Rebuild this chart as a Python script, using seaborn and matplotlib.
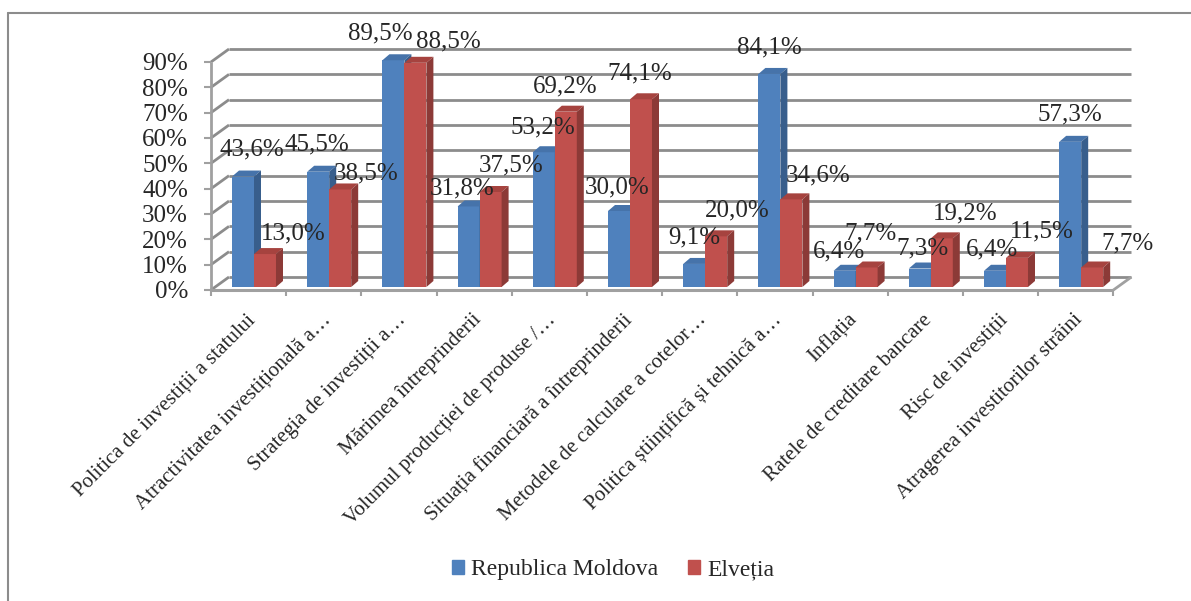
import numpy as np
import pandas as pd
import matplotlib
matplotlib.use('Agg')
import matplotlib.pyplot as plt
import matplotlib.transforms as mtransforms
from matplotlib.lines import Line2D
from matplotlib.patches import Patch
import seaborn as sns

# ---------------- data ----------------
categories = [
    "Politica de investiții a statului",
    "Atractivitatea investițională a…",
    "Strategia de investiții a…",
    "Mărimea întreprinderii",
    "Volumul producției de produse /…",
    "Situația financiară a întreprinderii",
    "Metodele de calculare a cotelor…",
    "Politica științifică și tehnică a…",
    "Inflația",
    "Ratele de creditare bancare",
    "Risc de investiții",
    "Atragerea investitorilor străini",
]
series_names = ["Republica Moldova", "Elveția"]
moldova = [43.6, 45.5, 89.5, 31.8, 53.2, 30.0, 9.1, 84.1, 6.4, 7.3, 6.4, 57.3]
elvetia = [13.0, 38.5, 88.5, 37.5, 69.2, 74.1, 20.0, 34.6, 7.7, 19.2, 11.5, 7.7]
y_ticks = [0, 10, 20, 30, 40, 50, 60, 70, 80, 90]
y_tick_labels = [f"{t}%" for t in y_ticks]

# label nudges in pixels (dx right, dy up) relative to bar top
moldova_label_offsets = [(9, 27), (-1, 27), (-13, 27), (-6, 18), (-1, 25), (-2, 24),
                         (0, 26), (0, 26), (-6, 19), (3, 20), (-3, 21), (0, 27)]
elvetia_label_offsets = [(28, 21), (26, 16), (33, 21), (21, 27), (-1, 25), (-1, 26),
                         (21, 26), (27, 24), (4, 34), (23, 25), (25, 26), (35, 24)]

# ---------------- style ----------------
colors = ["#4f81bd", "#c0504d"]
side_colors = ["#385e8c", "#8c3a37"]
top_colors = ["#4673aa", "#a6433f"]
grid_col = "#8c8c8c"
axis_col = "#a0a0a0"

W, H = 1191, 601
sns.set_style("white")
plt.rcParams["font.family"] = ["Liberation Serif", "DejaVu Serif"]

fig = plt.figure(figsize=(W / 100, H / 100), dpi=100)
fig.patch.set_facecolor("white")
ax = fig.add_axes([216.4 / W, (H - 287) / H, 902.4 / W, 228 / H])
ax.patch.set_visible(False)

df = pd.DataFrame({
    "Factor": categories * 2,
    "Serie": [series_names[0]] * len(categories) + [series_names[1]] * len(categories),
    "Valoare": moldova + elvetia,
})
sns.barplot(data=df, x="Factor", y="Valoare", hue="Serie", palette=colors,
            width=0.585, saturation=1, ax=ax, legend=False, errorbar=None,
            linewidth=0)

ax.set_xlim(-0.5, len(categories) - 0.5)
ax.set_ylim(0, 90)
ax.set_autoscale_on(False)
for s in ax.spines.values():
    s.set_visible(False)
ax.set_xlabel("")
ax.set_ylabel("")


def to_fig(xd, yd, ox=0.0, oy=0.0):
    px, py = ax.transData.transform((xd, yd))
    return (px + ox) / W, (py + oy) / H


FO = (-5.4, -3.0)   # front plane offset (px)
BO = (12.6, 10.0)   # back wall offset (px)
xl, xr = -0.5, len(categories) - 0.5


def seg(p, q, color, lw, z):
    ax.plot([p[0], q[0]], [p[1], q[1]], transform=fig.transFigure, color=color,
            lw=lw, clip_on=False, zorder=z, solid_capstyle="butt")


# back wall gridlines + left wall diagonals + y tick marks
for t in y_ticks:
    b0 = to_fig(xl, t, *BO)
    b1 = to_fig(xr, t, *BO)
    seg(b0, b1, grid_col, 2.0, 0.5)
    f0 = to_fig(xl, t, *FO)
    seg(f0, b0, grid_col, 2.0, 0.5)
    seg((f0[0] - 7 / W, f0[1]), f0, axis_col, 1.5, 0.6)

# front axes
seg(to_fig(xl, 0, *FO), to_fig(xl, 90, *FO), axis_col, 2.0, 0.6)
seg(to_fig(xl, 0, *FO), to_fig(xr, 0, *FO), axis_col, 2.2, 0.6)
seg(to_fig(xr, 0, *FO), to_fig(xr, 0, *BO), axis_col, 2.0, 0.6)
for k in range(len(categories) + 1):
    p = to_fig(xl + k, 0, *FO)
    seg(p, (p[0], p[1] - 6 / H), axis_col, 1.5, 0.6)

# 3D faces on bars
ddx, ddy = 7, 6
for ci, cont in enumerate(ax.containers):
    for bar in cont:
        x, w, h = bar.get_x(), bar.get_width(), bar.get_height()
        bar.set_zorder(2 + ci)
        p1, p2 = to_fig(x, h), to_fig(x + w, h)
        p3, p4 = to_fig(x + w, h, ddx, ddy), to_fig(x, h, ddx, ddy)
        ax.fill([p1[0], p2[0], p3[0], p4[0]], [p1[1], p2[1], p3[1], p4[1]],
                transform=fig.transFigure, color=top_colors[ci], lw=0,
                zorder=2.5 + ci, clip_on=False)
        q1, q2 = to_fig(x + w, 0), to_fig(x + w, h)
        q3, q4 = to_fig(x + w, h, ddx, ddy), to_fig(x + w, 0, ddx, ddy)
        ax.fill([q1[0], q2[0], q3[0], q4[0]], [q1[1], q2[1], q3[1], q4[1]],
                transform=fig.transFigure, color=side_colors[ci], lw=0,
                zorder=2.5 + ci, clip_on=False)

# data labels
for cont, vals, offs in zip(ax.containers, [moldova, elvetia],
                            [moldova_label_offsets, elvetia_label_offsets]):
    for bar, v, (odx, ody) in zip(cont, vals, offs):
        ax.annotate(f"{v:.1f}%".replace(".", ","),
                    xy=(bar.get_x() + bar.get_width() / 2, v),
                    xytext=(odx, ody), textcoords="offset pixels",
                    ha="center", va="center", fontsize=18, zorder=10,
                    annotation_clip=False)

# ticks
ax.set_yticks(y_ticks, y_tick_labels)
ax.tick_params(axis="y", length=0, pad=20.4, labelsize=18)
off = mtransforms.ScaledTranslation(0, -3 / 100, fig.dpi_scale_trans)
for lab in ax.get_yticklabels():
    lab.set_transform(lab.get_transform() + off)

ax.set_xticks(range(len(categories)), categories, rotation=45, ha="right",
              rotation_mode="anchor")
ax.tick_params(axis="x", length=0, pad=17, labelsize=15)
offx = mtransforms.ScaledTranslation(-8 / 100, 0, fig.dpi_scale_trans)
for lab in ax.get_xticklabels():
    lab.set_transform(lab.get_transform() + offx)

# legend
handles = [Patch(color=c) for c in colors]
fig.legend(handles, series_names, loc="center",
           bbox_to_anchor=(613 / W, (H - 570) / H), ncol=2, frameon=False,
           fontsize=17, handlelength=0.5, handleheight=0.5,
           handletextpad=0.3, columnspacing=1.3)

# outer frame
fig.add_artist(Line2D([8 / W, 8 / W], [0, (H - 13) / H], color=grid_col, lw=1.5,
                      transform=fig.transFigure))
fig.add_artist(Line2D([8 / W, 1], [(H - 13) / H, (H - 13) / H], color=grid_col,
                      lw=1.5, transform=fig.transFigure))

fig.savefig("out.png", dpi=100)
